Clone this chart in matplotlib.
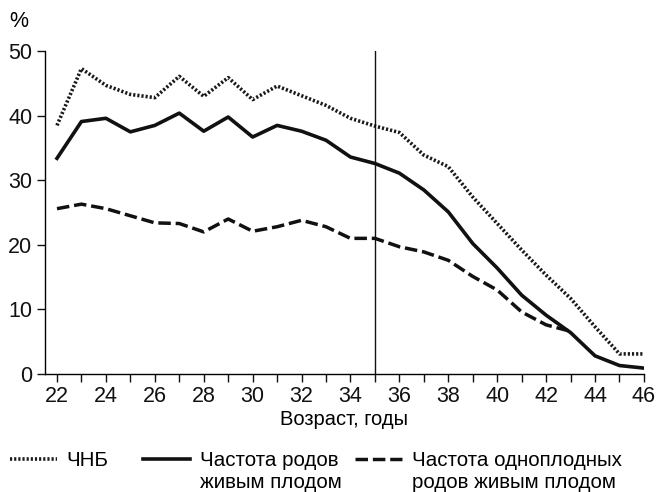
import matplotlib
matplotlib.use("Agg")
import matplotlib.pyplot as plt

plt.rcParams['font.family'] = ['Liberation Sans', 'DejaVu Sans']

age = list(range(22, 47))
chnb = [38.5, 47.3, 44.7, 43.3, 42.8, 46.1, 43.0, 45.9, 42.5, 44.6, 43.1, 41.6,
        39.6, 38.4, 37.4, 33.9, 32.1, 27.4, 23.3, 19.2, 15.3, 11.7, 7.3, 3.1, 3.1]
live = [33.4, 39.1, 39.6, 37.5, 38.5, 40.4, 37.6, 39.8, 36.7, 38.5, 37.6, 36.2,
        33.6, 32.6, 31.1, 28.5, 25.1, 20.2, 16.4, 12.2, 9.1, 6.4, 2.8, 1.3, 0.9]
age_single = list(range(22, 44))
single = [25.6, 26.3, 25.6, 24.5, 23.4, 23.3, 22.0, 24.0, 22.1, 22.8, 23.8, 22.8,
          21.0, 21.0, 19.7, 18.9, 17.6, 15.1, 13.0, 9.6, 7.6, 6.6]

labels = [('ЧНБ', ''), ('Частота родов', 'живым плодом'),
          ('Частота одноплодных', 'родов живым плодом')]

fig = plt.figure(figsize=(6.68, 4.92), dpi=100)
ax = fig.add_axes([0.067, 0.240, 0.897, 0.656])

l1, = ax.plot(age, chnb, color='#1a1a1a', lw=2.6, linestyle=(0, (0.6, 0.55)))
l2, = ax.plot(age, live, color='#111111', lw=2.6)
l3, = ax.plot(age_single, single, color='#111111', lw=2.5, linestyle=(0, (3.6, 1.4)))
ax.axvline(35, color='#111111', lw=1.0)

ax.set_xlim(21.5, 46)
ax.set_ylim(0, 50)
ax.set_xticks(age)
ax.set_xticklabels([str(a) if a % 2 == 0 else '' for a in age])
ax.set_yticks(range(0, 51, 10))
ax.tick_params(direction='out', length=6, width=1, labelsize=15.5, colors='#111111', pad=3)
for s in ['top', 'right']:
    ax.spines[s].set_visible(False)
for s in ['left', 'bottom']:
    ax.spines[s].set_linewidth(1.0)

ax.set_xlabel('Возраст, годы', fontsize=14.5, labelpad=2)
fig.text(0.014, 0.945, '%', fontsize=15.5)

# three legend entries, handle aligned with first text line
anchors = [10 / 668, 143 / 668, 355 / 668]
texts = []
for h, (first, second), x in zip([l1, l2, l3], labels, anchors):
    leg = fig.legend([h], [first], loc='center left', bbox_to_anchor=(x, 1 - 461 / 492),
                     frameon=False, prop={'size': 14.8},
                     handlelength=2.3, handletextpad=0.45, borderpad=0, borderaxespad=0)
    texts.append((leg, second))

fig.canvas.draw()
inv = fig.transFigure.inverted()
for leg, second in texts:
    if second:
        bb = leg.get_texts()[0].get_window_extent()
        x0 = inv.transform((bb.x0, bb.y0))[0]
        fig.text(x0, 1 - 482 / 492, second, fontsize=14.8, ha='left', va='center')

fig.savefig('out.png', dpi=100)
